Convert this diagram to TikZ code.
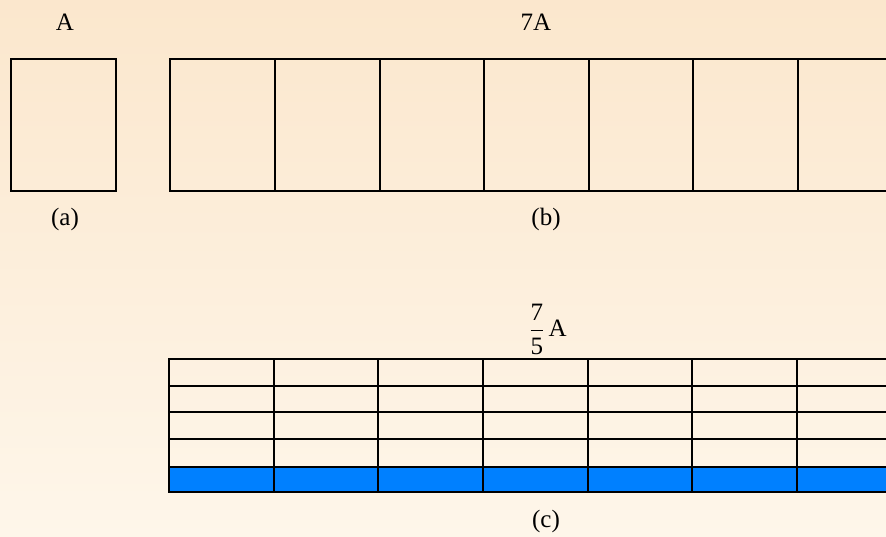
\documentclass[tikz,border=0pt]{standalone}
\usepackage{amsmath}
\usepackage{fontspec}
\setmainfont{Liberation Serif}
\usetikzlibrary{positioning}
\definecolor{BgTop}{HTML}{FBE7CD}
\definecolor{BgBottom}{HTML}{FEF6EA}
\definecolor{StripBlue}{HTML}{0080FF}

\begin{document}
\begin{tikzpicture}[x=1pt,y=-1pt,
  lbl/.style={font=\fontsize{25}{30}\selectfont,inner sep=0pt},
  cell/.style={draw,line width=1.4pt},
  strip/.style={draw,line width=1.4pt,fill=StripBlue}
]
\clip (0,0) rectangle (886,537);
\fill[top color=BgTop,bottom color=BgBottom] (0,0) rectangle (886,537);
% (a) one unit
\draw[cell] (11,59) rectangle (116,191);
\node[lbl] (capA) at (65,22) {A};
\node[lbl] (tagA) at (65,219) {(a)};
% (b) seven units
\foreach \xa/\xb in {170/275,275/380,380/484,484/589,589/693,693/798,798/903}
  \draw[cell] (\xa,59) rectangle (\xb,191);
\node[lbl] (capB) at (536,22) {7A};
\node[lbl] (tagB) at (546,219) {(b)};
% (c) each unit cut in five, one fifth shaded
\foreach \xa/\xb in {169/274,274/378,378/483,483/588,588/692,692/797,797/902} {
  \foreach \ya/\yb in {359/386,386/412,412/439,439/467}
    \draw[cell] (\xa,\ya) rectangle (\xb,\yb);
  \draw[strip] (\xa,467) rectangle (\xb,492);
}
\node[lbl] (capC) at (548,329) {$\dfrac{\text{7}}{\text{5}}$\,A};
\node[lbl] (tagC) at (546,521) {(c)};
\end{tikzpicture}
\end{document}
